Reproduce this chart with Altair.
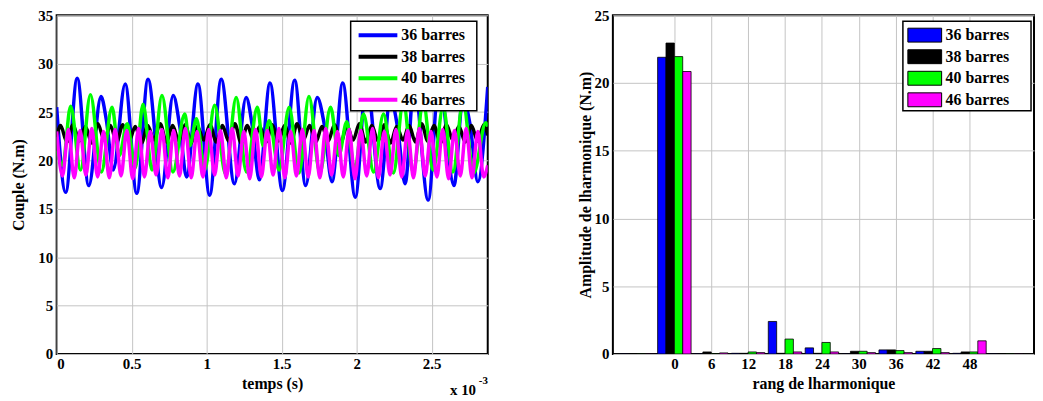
import altair as alt
import pandas as pd

series_names = ["36 barres", "38 barres", "40 barres", "46 barres"]
series_colors = ["#0000FF", "#000000", "#00FF00", "#FF00FF"]
FONT = "Liberation Serif"

# ---------------- left panel: torque vs time (time in ms = x10^-3 s) -------------
blue_t = [0.000, 0.060, 0.137, 0.214, 0.296, 0.331, 0.377, 0.457, 0.534, 0.609,
          0.700, 0.777, 0.821, 0.866, 0.942, 1.020, 1.097, 1.185, 1.263, 1.305,
          1.351, 1.422, 1.505, 1.587, 1.660, 1.737, 1.781, 1.836, 1.907, 1.991,
          2.066, 2.157, 2.225, 2.272, 2.323, 2.384, 2.477, 2.550, 2.649, 2.709,
          2.755, 2.808, 2.874]
blue_v = [25.5, 16.7, 28.5, 17.4, 26.6, 24.2, 19.0, 27.9, 16.6, 28.4,
          17.2, 26.7, 23.5, 18.3, 27.9, 16.4, 28.4, 17.6, 26.5, 23.5,
          18.0, 28.0, 16.9, 28.3, 17.4, 26.5, 24.0, 17.8, 28.0, 16.2,
          28.3, 17.1, 26.5, 23.5, 17.6, 28.0, 15.9, 28.3, 17.4, 26.5,
          23.8, 17.8, 27.6]

black_t = [0.000, 0.026, 0.068, 0.109, 0.151, 0.192, 0.234, 0.275, 0.317, 0.358,
           0.400, 0.441, 0.483, 0.524, 0.566, 0.607, 0.649, 0.690, 0.732, 0.773,
           0.815, 0.856, 0.898, 0.939, 0.981, 1.022, 1.064, 1.105, 1.147, 1.188,
           1.230, 1.271, 1.313, 1.354, 1.396, 1.437, 1.479, 1.520, 1.562, 1.603,
           1.645, 1.686, 1.728, 1.769, 1.811, 1.852, 1.894, 1.935, 1.977, 2.018,
           2.060, 2.101, 2.143, 2.184, 2.226, 2.267, 2.309, 2.350, 2.392, 2.433,
           2.475, 2.516, 2.558, 2.599, 2.641, 2.682, 2.724, 2.765, 2.807, 2.848,
           2.874]
black_v = [22.4, 23.6, 21.9, 23.7, 22.0, 23.5, 21.8, 23.8, 22.1, 23.6,
           21.9, 23.7, 22.0, 23.5, 21.8, 23.6, 22.1, 23.8, 21.9, 23.6,
           22.0, 23.7, 21.8, 23.5, 22.1, 23.7, 21.9, 23.6, 22.0, 23.8,
           21.8, 23.6, 22.1, 23.5, 21.9, 23.7, 22.0, 23.6, 21.8, 23.8,
           22.1, 23.6, 21.9, 23.5, 22.0, 23.7, 21.8, 23.6, 22.1, 23.8,
           21.9, 23.6, 22.0, 23.7, 21.8, 23.5, 22.1, 23.6, 21.9, 23.8,
           22.0, 23.6, 21.8, 23.7, 22.1, 23.5, 21.9, 23.6, 22.0, 23.7,
           22.6]

green_t = [0.000, 0.040, 0.093, 0.159, 0.225, 0.298, 0.369, 0.417, 0.470, 0.523,
           0.576, 0.636, 0.702, 0.775, 0.854, 0.887, 0.932, 0.987, 1.053, 1.126,
           1.197, 1.265, 1.338, 1.377, 1.417, 1.483, 1.550, 1.616, 1.682, 1.755,
           1.826, 1.881, 1.934, 1.987, 2.046, 2.113, 2.179, 2.245, 2.311, 2.377,
           2.444, 2.510, 2.576, 2.642, 2.709, 2.781, 2.861, 2.874]
green_v = [21.0, 19.5, 25.6, 19.0, 26.8, 18.8, 25.5, 20.5, 23.8, 19.2,
           25.8, 19.0, 26.7, 18.8, 24.8, 21.5, 24.3, 19.0, 25.7, 18.6,
           26.5, 18.8, 25.5, 21.5, 24.1, 19.0, 25.5, 18.7, 26.6, 18.7,
           25.5, 20.5, 24.0, 19.0, 24.8, 18.8, 24.8, 18.7, 26.0, 18.8,
           26.0, 19.0, 25.5, 18.8, 26.0, 18.7, 23.9, 23.5]

mag_t = [0.000, 0.039, 0.078, 0.117, 0.156, 0.195, 0.234, 0.273, 0.312, 0.351,
         0.390, 0.429, 0.468, 0.507, 0.546, 0.585, 0.624, 0.663, 0.702, 0.741,
         0.780, 0.819, 0.858, 0.897, 0.936, 0.975, 1.014, 1.053, 1.092, 1.131,
         1.170, 1.209, 1.248, 1.287, 1.326, 1.365, 1.404, 1.443, 1.482, 1.521,
         1.560, 1.599, 1.638, 1.677, 1.716, 1.755, 1.794, 1.833, 1.872, 1.911,
         1.950, 1.989, 2.028, 2.067, 2.106, 2.145, 2.184, 2.223, 2.262, 2.301,
         2.340, 2.379, 2.418, 2.457, 2.496, 2.535, 2.574, 2.613, 2.652, 2.691,
         2.730, 2.769, 2.808, 2.847, 2.874]
mag_v = [23.0, 18.4, 23.2, 18.2, 23.1, 18.5, 23.3, 18.3, 23.0, 18.2,
         23.2, 18.4, 23.1, 18.1, 23.3, 18.3, 23.0, 18.5, 23.2, 18.2,
         23.1, 18.4, 23.3, 18.2, 23.0, 18.3, 23.2, 18.5, 23.1, 18.2,
         23.3, 18.4, 23.0, 18.1, 23.2, 18.3, 23.1, 18.5, 23.3, 18.2,
         23.0, 18.4, 23.2, 18.3, 23.1, 18.2, 23.3, 18.5, 23.0, 18.3,
         23.2, 18.1, 23.1, 18.4, 23.3, 18.2, 23.0, 18.5, 23.2, 18.3,
         23.1, 18.2, 23.3, 18.4, 23.0, 18.3, 23.2, 18.1, 23.1, 18.4,
         23.3, 18.2, 23.0, 18.3, 19.5]

time_ticks = [0, 0.5, 1, 1.5, 2, 2.5]
couple_ticks = [0, 5, 10, 15, 20, 25, 30, 35]

# ---------------- right panel: harmonic spectrum -------------
ranks = [-6, 0, 6, 12, 18, 24, 30, 36, 42, 48, 54]
amp_36 = [0.02, 21.9, 0.03, 0.05, 2.4, 0.45, 0.03, 0.3, 0.2, 0.05, 0.03]
amp_38 = [0.02, 22.95, 0.15, 0.05, 0.05, 0.05, 0.2, 0.3, 0.2, 0.15, 0.03]
amp_40 = [0.02, 21.95, 0.03, 0.15, 1.1, 0.85, 0.2, 0.25, 0.4, 0.15, 0.03]
amp_46 = [0.02, 20.85, 0.08, 0.1, 0.15, 0.15, 0.1, 0.1, 0.1, 0.97, 0.02]
rank_ticks = [0, 6, 12, 18, 24, 30, 36, 42, 48]
amp_ticks = [0, 5, 10, 15, 20, 25]

# ---------------- build tables -------------
rows = []
for name, ts, vs in zip(series_names, [blue_t, black_t, green_t, mag_t],
                        [blue_v, black_v, green_v, mag_v]):
    for t, v in zip(ts, vs):
        rows.append({"serie": name, "t": t, "couple": v})
ts_df = pd.DataFrame(rows)

group_offsets = [-2.04, -0.68, 0.68, 2.04]
half_w = 0.68
brows = []
for name, off, vals in zip(series_names, group_offsets, [amp_36, amp_38, amp_40, amp_46]):
    for r, v in zip(ranks, vals):
        brows.append({"serie": name, "rang": r, "x1": r + off - half_w,
                      "x2": r + off + half_w, "amp": v, "base": 0.0})
bar_df = pd.DataFrame(brows)

color_scale = alt.Scale(domain=series_names, range=series_colors)

LW, LH = 434, 341
RW, RH = 424, 341

lines = alt.Chart(ts_df).mark_line(strokeWidth=3.5, interpolate="monotone", clip=True).encode(
    x=alt.X("t:Q", scale=alt.Scale(domain=[0, 2.874], nice=False, zero=False),
            axis=alt.Axis(values=time_ticks, format="~g", title="temps (s)",
                          titleY=30, titleBaseline="middle", labelPadding=3)),
    y=alt.Y("couple:Q", scale=alt.Scale(domain=[0, 35], nice=False),
            axis=alt.Axis(values=couple_ticks, title="Couple (N.m)", titleX=-38,
                          titleBaseline="middle", labelPadding=4)),
    color=alt.Color("serie:N", scale=color_scale, legend=None),
)


def legend_layers(box, kind):
    one = pd.DataFrame({"k": [0]})
    x0, x1, y0, y1, sx0, sx1, tx, row0, dy = box
    layers = [alt.Chart(one).mark_rect(fill="white", stroke="black", strokeWidth=1.5).encode(
        x=alt.value(x0), x2=alt.value(x1), y=alt.value(y0), y2=alt.value(y1))]
    for i, (name, col) in enumerate(zip(series_names, series_colors)):
        yy = row0 + i * dy
        d = pd.DataFrame({"serie": [name]})
        if kind == "line":
            layers.append(alt.Chart(d).mark_rule(color=col, strokeWidth=4).encode(
                x=alt.value(sx0), x2=alt.value(sx1), y=alt.value(yy)))
        else:
            layers.append(alt.Chart(d).mark_rect(fill=col, stroke="black", strokeWidth=1).encode(
                x=alt.value(sx0), x2=alt.value(sx1), y=alt.value(yy - 7), y2=alt.value(yy + 7)))
        layers.append(alt.Chart(d).mark_text(font=FONT, fontWeight="bold", fontSize=16,
                                             align="left", baseline="middle", color="black").encode(
            text="serie:N", x=alt.value(tx), y=alt.value(yy)))
    return layers


one_df = pd.DataFrame({"k": [0]})
exp_main = alt.Chart(one_df).mark_text(text="x 10", font=FONT, fontWeight="bold", fontSize=15,
                                       align="left", baseline="alphabetic").encode(
    x=alt.value(396), y=alt.value(382))
exp_sup = alt.Chart(one_df).mark_text(text="-3", font=FONT, fontWeight="bold", fontSize=11,
                                      align="left", baseline="alphabetic").encode(
    x=alt.value(425), y=alt.value(371))

left = alt.layer(lines, *legend_layers((296, 423, 6, 96, 304, 343, 347, 20, 21.7), "line"),
                 exp_main, exp_sup).properties(width=LW, height=LH)

bars = alt.Chart(bar_df).mark_rect(stroke="black", strokeWidth=0.8, clip=True).encode(
    x=alt.X("x1:Q", scale=alt.Scale(domain=[-10, 58.5], nice=False, zero=False),
            axis=alt.Axis(values=rank_ticks, format="d", title="rang de lharmonique",
                          titleY=30, titleBaseline="middle", labelPadding=3)),
    x2="x2:Q",
    y=alt.Y("amp:Q", scale=alt.Scale(domain=[0, 25], nice=False),
            axis=alt.Axis(values=amp_ticks, title="Amplitude de lharmonique (N.m)",
                          titleX=-28, titleBaseline="middle", labelPadding=4)),
    y2="base:Q",
    fill=alt.Fill("serie:N", scale=color_scale, legend=None),
)

right = alt.layer(bars, *legend_layers((292, 421, 6, 96, 297, 331, 335, 20, 21.7), "rect")
                  ).properties(width=RW, height=RH)

chart = alt.hconcat(left, right, spacing=126, bounds="flush").properties(
    padding={"left": 2, "top": -2, "right": 0, "bottom": 0}
).configure_view(
    stroke="black", strokeWidth=2
).configure_axis(
    labelFont=FONT, labelFontSize=15, labelFontWeight="bold", labelColor="black",
    titleFont=FONT, titleFontSize=16, titleFontWeight="bold", titleColor="black",
    grid=True, gridColor="#c4c4c4", gridWidth=1, domain=False, ticks=False
)

chart.save("out.html", embed_options={"renderer": "svg", "actions": False})
